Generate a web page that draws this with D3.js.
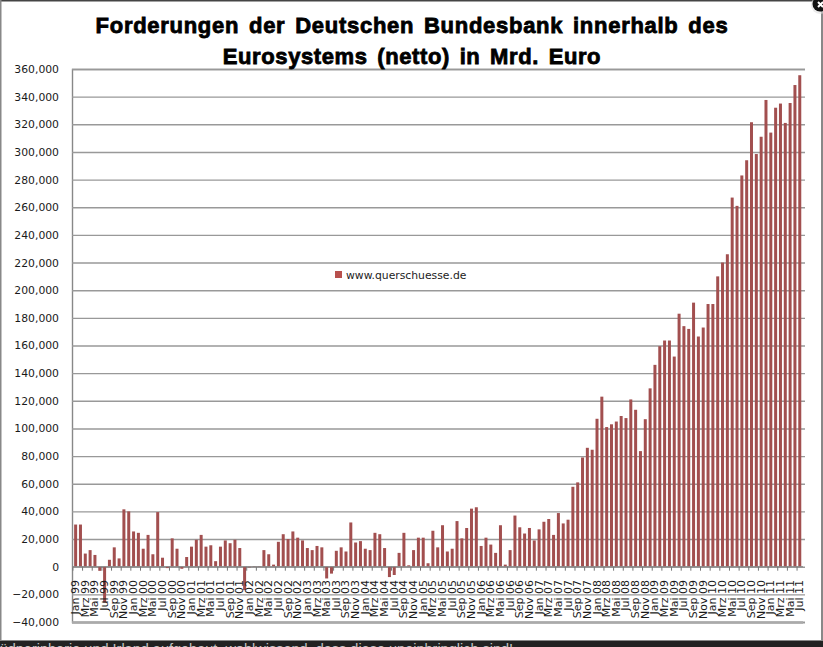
<!DOCTYPE html>
<html><head><meta charset="utf-8">
<script src="https://cdn.jsdelivr.net/npm/d3@7"></script>
<style>html,body{margin:0;padding:0;background:#fff;overflow:hidden}svg{display:block}</style>
</head><body><svg id="c" width="823" height="647"></svg>
<script>
const titleLines = ["Forderungen der Deutschen Bundesbank innerhalb des", "Eurosystems (netto) in Mrd. Euro"];
const legendLabel = "www.querschuesse.de";
const footerText = "Südperipherie und Irland aufgebaut, wohlwissend, dass diese uneinbringlich sind!";
const monthNames = ["Jan","Feb","Mrz","Apr","Mai","Jun","Jul","Aug","Sep","Okt","Nov","Dez"];
const yearNames = ["99","00","01","02","03","04","05","06","07","08","09","10","11"];
const categories = yearNames.flatMap(y => monthNames.map(m => m + " " + y)).slice(0, 151);
const tickLabels = categories.filter((c, i) => i % 2 === 0);
const yTicks = [-40000,-20000,0,20000,40000,60000,80000,100000,120000,140000,160000,180000,200000,220000,240000,260000,280000,300000,320000,340000,360000];
const values = [
30.5,30.5,9.5,12,8.5,-3,-26,5,14,6,41.5,40,
25.5,24.5,13,23,9,39.5,6.5,-1,20.5,13,-1.5,7,
14.5,19.5,23,14.5,15.5,4,14.5,19,17,19.5,13.5,-17,
-0.5,0.5,0.5,12,9,1.5,18,23.5,20,25.5,21,19,
13.5,12,15,14,-8.5,-5,11.5,14,11,32,17.5,18.5,
13,12,24.5,23.5,13.5,-7.5,-6,10,24.5,1,12,21,
21,2.5,26,14,30,11,13,33,20.5,28,42,43,
15,21,16,10,30,1.5,12,37,28.5,24,28,19,
27,32.5,34.5,23,38.8,31.3,34,57.8,61,79,86,84.6,
107,123,101,103,105,109,107.5,121,113.5,83.6,106.7,129,
146,159.5,163.6,163.6,152,183,174,172,191,166.5,173,190,
190,210,220,226,267,261,283,294,321.5,298.5,311,337.6,
314,332,335,321,335.4,348.4,355.5
].map(v => v * 1000);

const svg = d3.select("#c");
const grey = "#999";
const x = d3.scaleBand().domain(categories).range([72.3, 803.1]).padding(0.38);
const y = d3.scaleLinear().domain([-40000, 360000]).range([622, 69]);

// frame
svg.append("rect").attr("width",823).attr("height",647).attr("fill","#fff");
svg.append("rect").attr("x",0).attr("y",0).attr("width",823).attr("height",1.5).attr("fill","#444");
svg.append("rect").attr("x",0).attr("y",0).attr("width",1.5).attr("height",641).attr("fill","#888");
svg.append("rect").attr("x",821).attr("y",0).attr("width",2).attr("height",641).attr("fill","#888");

// y axis + grid
const yAxis = d3.axisLeft(y).tickValues(yTicks).tickSize(-733).tickPadding(13)
  .tickFormat(d3.format(","));
const gy = svg.append("g").attr("transform","translate(72,0)").call(yAxis);
gy.select(".domain").attr("stroke","#888").attr("stroke-width",1.4);
gy.selectAll(".tick line").attr("stroke",grey).attr("stroke-width",1.4);
gy.selectAll(".tick text").attr("font-family","DejaVu Sans").attr("font-size",10.8).attr("fill","#1a1a1a");
svg.append("line").attr("x1",72).attr("x2",803).attr("y1",y(-40000)+0.5).attr("y2",y(-40000)+0.5)
  .attr("stroke","#aaa").attr("stroke-width",2.4);

// bars
svg.append("g").selectAll("rect").data(values).join("rect")
  .attr("x",(d,i)=>x(categories[i])).attr("width",x.bandwidth())
  .attr("y",d=>y(Math.max(0,d))).attr("height",d=>Math.abs(y(d)-y(0)))
  .attr("fill","#a24f4f");

// zero line, ticks
const gt = svg.append("g");
gt.append("line").attr("x1",72).attr("x2",803).attr("y1",y(0)).attr("y2",y(0)).attr("stroke","#888").attr("stroke-width",1);
gt.selectAll("line.t").data(tickLabels).join("line").attr("class","t")
  .attr("x1",d=>x(d)-x.step()*x.paddingInner()/2-0.3).attr("x2",d=>x(d)-x.step()*x.paddingInner()/2-0.3)
  .attr("y1",y(0)).attr("y2",y(0)+4).attr("stroke","#777").attr("stroke-width",1);

// x labels
const xAxis = d3.axisBottom(x).tickValues(tickLabels).tickSize(0).tickPadding(0);
const gx = svg.append("g").attr("transform","translate(0,580)").call(xAxis);
gx.select(".domain").remove();
gx.selectAll(".tick text").attr("font-family","DejaVu Sans").attr("font-size",11).attr("fill","#1a1a1a")
  .attr("text-anchor","end").attr("dy",0).attr("y",0).attr("x",0)
  .attr("dominant-baseline","central").attr("transform","rotate(-90)");

// title
svg.append("g").selectAll("text").data(titleLines).join("text")
  .attr("x",412).attr("y",(d,i)=>33+i*31).attr("text-anchor","middle")
  .attr("font-family","Liberation Sans").attr("font-weight","bold").attr("font-size",22)
  .attr("word-spacing",3).attr("letter-spacing",(d,i)=>i===0?0.72:0.6)
  .attr("stroke","#000").attr("stroke-width",0.8).attr("fill","#000").text(d=>d);

// legend
svg.append("rect").attr("x",335).attr("y",271).attr("width",7).attr("height",7).attr("fill","#b8504d");
svg.append("text").attr("x",346).attr("y",279).attr("font-family","DejaVu Sans").attr("font-size",10.8)
  .attr("fill","#222").text(legendLabel);

// bottom strip
svg.append("rect").attr("x",0).attr("y",641).attr("width",823).attr("height",6).attr("fill","#222");
svg.append("rect").attr("x",0).attr("y",640).attr("width",823).attr("height",1).attr("fill","#888");
svg.append("text").attr("x",-10).attr("y",653.5).attr("font-family","Liberation Sans").attr("font-size",14.5)
  .attr("fill","#c4c4c4").text(footerText);

// close button
svg.append("circle").attr("cx",820).attr("cy",5).attr("r",9).attr("fill","#ddd").attr("opacity",0.6);
svg.append("circle").attr("cx",820).attr("cy",4).attr("r",7.5).attr("fill","#111");
svg.append("path").attr("d","M818 2L823 7M823 2L818 7").attr("stroke","#fff").attr("stroke-width",2);
</script></body></html>
